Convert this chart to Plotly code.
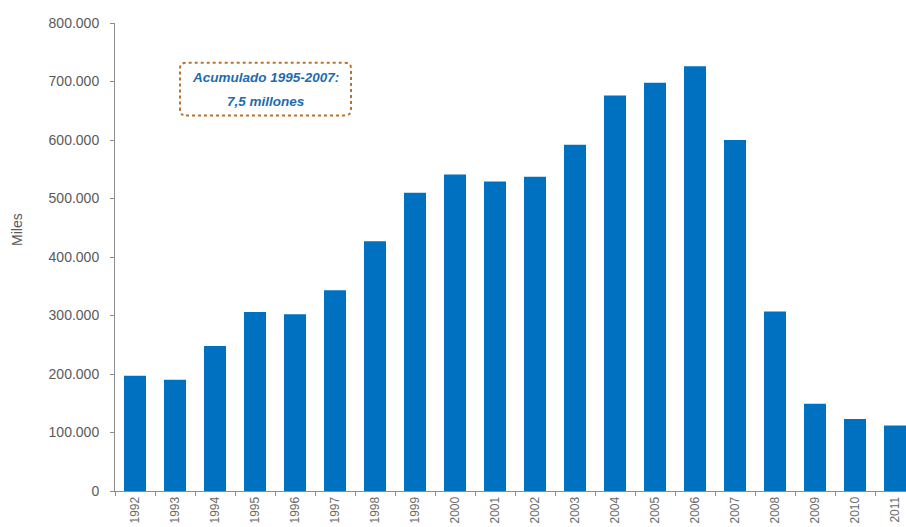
import plotly.graph_objects as go

years = ["1992", "1993", "1994", "1995", "1996", "1997", "1998", "1999", "2000", "2001",
         "2002", "2003", "2004", "2005", "2006", "2007", "2008", "2009", "2010", "2011"]
values = [197000, 190000, 248000, 306000, 302000, 343000, 427000, 510000, 541000, 529000,
          537000, 592000, 676000, 698000, 726000, 600000, 307000, 149000, 123000, 112000]
y_ticks = [0, 100000, 200000, 300000, 400000, 500000, 600000, 700000, 800000]
note_lines = ["Acumulado 1995-2007:", "7,5 millones"]
y_title = "Miles"

BAR = "#0070C0"
AXIS = "#8C8C8C"
TXT = "#5A5A5A"
FONT = "Liberation Sans, Arial, sans-serif"

fig = go.Figure()
fig.add_trace(go.Bar(x=years, y=values, marker=dict(color=BAR, line=dict(width=0)),
                     hoverinfo="x+y"))

# rounded dotted box (in data coords of a category axis)
x0, x1 = 1.125, 5.4
y0, y1 = 642000, 732000
rx, ry = 0.15, 10000
path = (f"M {x0+rx},{y0} L {x1-rx},{y0} Q {x1},{y0} {x1},{y0+ry} "
        f"L {x1},{y1-ry} Q {x1},{y1} {x1-rx},{y1} L {x0+rx},{y1} "
        f"Q {x0},{y1} {x0},{y1-ry} L {x0},{y0+ry} Q {x0},{y0} {x0+rx},{y0} Z")
fig.add_shape(type="path", path=path, xref="x", yref="y",
              line=dict(color="#B8732F", width=2, dash="dot"),
              fillcolor="rgba(255,255,255,0)", layer="above")

fig.add_annotation(x=(x0 + x1) / 2, y=706000, xref="x", yref="y", showarrow=False,
                   text=f"<b><i>{note_lines[0]}</i></b>",
                   font=dict(family=FONT, size=13.5, color="#1E6BAE"))
fig.add_annotation(x=(x0 + x1) / 2, y=665000, xref="x", yref="y", showarrow=False,
                   text=f"<b><i>{note_lines[1]}</i></b>",
                   font=dict(family=FONT, size=13.5, color="#1E6BAE"))

fig.add_annotation(x=-0.1239, y=0.56, xref="paper", yref="paper", showarrow=False,
                   xanchor="center", yanchor="middle",
                   text=y_title, textangle=-90,
                   font=dict(family=FONT, size=14, color=TXT))

fig.update_layout(
    width=906, height=527,
    margin=dict(l=115, r=0, t=23, b=36),
    paper_bgcolor="white", plot_bgcolor="white",
    separators=",.",
    showlegend=False,
    bargap=0.45,
    font=dict(family=FONT, color=TXT),
)
fig.update_xaxes(
    type="category", range=[-0.5, 19.275],
    showline=True, linecolor=AXIS, linewidth=1,
    ticks="outside", tickson="boundaries", ticklen=4, tickcolor=AXIS,
    tickangle=-90, tickfont=dict(family=FONT, size=12, color="#6A6A6A"),
    showgrid=False, zeroline=False, automargin=False,
)
fig.update_yaxes(
    range=[0, 800000], tickvals=y_ticks, tickformat=",d",
    showline=True, linecolor=AXIS, linewidth=1,
    ticks="outside", ticklen=4, tickcolor=AXIS, ticklabelstandoff=8,
    tickfont=dict(family=FONT, size=14, color=TXT),
    showgrid=False, zeroline=False, automargin=False,
)

fig.write_html("out.html", config={"displayModeBar": False},
               post_script="document.body.style.margin='0px';document.body.style.overflow='hidden';")
